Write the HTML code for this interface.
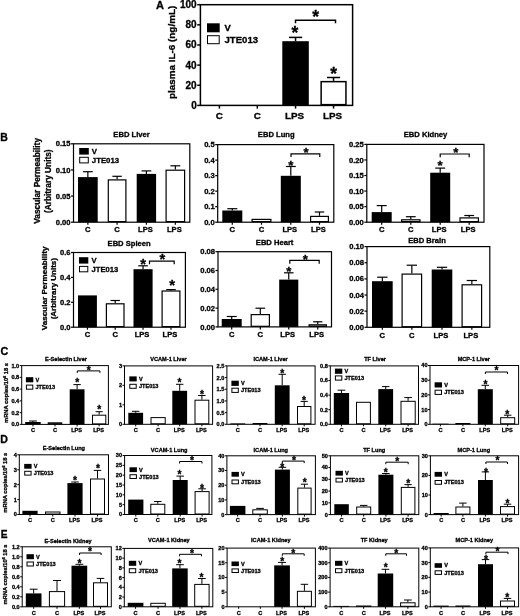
<!DOCTYPE html>
<html><head><meta charset="utf-8"><title>Figure</title>
<style>html,body{margin:0;padding:0;background:#fff;} svg{display:block;} text{font-family:"Liberation Sans", Arial, sans-serif;fill:#000;stroke:#000;stroke-width:0.3px;}</style>
</head><body>
<svg width="520" height="616" viewBox="0 0 520 616">
<rect width="520" height="616" fill="#fff"/>
<line x1="295.55" y1="41.2" x2="295.55" y2="37.4" stroke="#000" stroke-width="1.5"/>
<line x1="288.93" y1="37.4" x2="302.18" y2="37.4" stroke="#000" stroke-width="1.5"/>
<rect x="282.3" y="41.2" width="26.5" height="64.2" fill="#000"/>
<line x1="333.55" y1="80.9" x2="333.55" y2="77.5" stroke="#000" stroke-width="1.5"/>
<line x1="326.97" y1="77.5" x2="340.12" y2="77.5" stroke="#000" stroke-width="1.5"/>
<rect x="321.15" y="81.65" width="24.8" height="23" fill="#fff" stroke="#000" stroke-width="1.5"/>
<rect x="200.4" y="4.7" width="152.2" height="100.7" fill="none" stroke="#000" stroke-width="1.5"/>
<line x1="197.2" y1="105.4" x2="200.4" y2="105.4" stroke="#000" stroke-width="1.5"/>
<text x="196.7" y="108.84" font-size="10" text-anchor="end" font-weight="bold" >0</text>
<line x1="197.2" y1="85.26" x2="200.4" y2="85.26" stroke="#000" stroke-width="1.5"/>
<text x="196.7" y="88.7" font-size="10" text-anchor="end" font-weight="bold" >20</text>
<line x1="197.2" y1="65.12" x2="200.4" y2="65.12" stroke="#000" stroke-width="1.5"/>
<text x="196.7" y="68.56" font-size="10" text-anchor="end" font-weight="bold" >40</text>
<line x1="197.2" y1="44.98" x2="200.4" y2="44.98" stroke="#000" stroke-width="1.5"/>
<text x="196.7" y="48.42" font-size="10" text-anchor="end" font-weight="bold" >60</text>
<line x1="197.2" y1="24.84" x2="200.4" y2="24.84" stroke="#000" stroke-width="1.5"/>
<text x="196.7" y="28.28" font-size="10" text-anchor="end" font-weight="bold" >80</text>
<line x1="197.2" y1="4.7" x2="200.4" y2="4.7" stroke="#000" stroke-width="1.5"/>
<text x="196.7" y="8.14" font-size="10" text-anchor="end" font-weight="bold" >100</text>
<line x1="219.4" y1="105.4" x2="219.4" y2="108.6" stroke="#000" stroke-width="1.5"/>
<text x="219.4" y="118.71" font-size="9.9" text-anchor="middle" font-weight="bold" >C</text>
<line x1="257.3" y1="105.4" x2="257.3" y2="108.6" stroke="#000" stroke-width="1.5"/>
<text x="257.3" y="118.71" font-size="9.9" text-anchor="middle" font-weight="bold" >C</text>
<line x1="295.55" y1="105.4" x2="295.55" y2="108.6" stroke="#000" stroke-width="1.5"/>
<text x="294.55" y="118.71" font-size="9.9" text-anchor="middle" font-weight="bold" >LPS</text>
<line x1="333.55" y1="105.4" x2="333.55" y2="108.6" stroke="#000" stroke-width="1.5"/>
<text x="332.55" y="118.71" font-size="9.9" text-anchor="middle" font-weight="bold" >LPS</text>
<rect x="207" y="23.3" width="12.7" height="9" fill="#000"/>
<rect x="207.5" y="35.7" width="11.7" height="8" fill="#fff" stroke="#000" stroke-width="1.0"/>
<text x="224.5" y="30.96" font-size="9.2" text-anchor="start" font-weight="bold"  textLength="6.3" lengthAdjust="spacingAndGlyphs">V</text>
<text x="224.5" y="42.86" font-size="9.2" text-anchor="start" font-weight="bold"  textLength="33.6" lengthAdjust="spacingAndGlyphs">JTE013</text>
<text x="294.8" y="38.77" font-size="17.47" text-anchor="middle" font-weight="bold">*</text>
<text x="333.6" y="79.77" font-size="17.47" text-anchor="middle" font-weight="bold">*</text>
<text x="315.7" y="22.57" font-size="17.47" text-anchor="middle" font-weight="bold">*</text>
<polyline points="295.5,23.2 295.5,20.2 335.5,20.2 335.5,23.2" fill="none" stroke="#000" stroke-width="1.5"/>
<line x1="87.85" y1="177.1" x2="87.85" y2="171.7" stroke="#000" stroke-width="1.2"/>
<line x1="82.92" y1="171.7" x2="92.77" y2="171.7" stroke="#000" stroke-width="1.2"/>
<rect x="78" y="177.1" width="19.7" height="45.1" fill="#000"/>
<line x1="117.1" y1="179.3" x2="117.1" y2="176.3" stroke="#000" stroke-width="1.2"/>
<line x1="112.4" y1="176.3" x2="121.8" y2="176.3" stroke="#000" stroke-width="1.2"/>
<rect x="108.3" y="179.9" width="17.6" height="41.7" fill="#fff" stroke="#000" stroke-width="1.2"/>
<line x1="146.4" y1="173.9" x2="146.4" y2="170.9" stroke="#000" stroke-width="1.2"/>
<line x1="141.55" y1="170.9" x2="151.25" y2="170.9" stroke="#000" stroke-width="1.2"/>
<rect x="136.7" y="173.9" width="19.4" height="48.3" fill="#000"/>
<line x1="175.35" y1="169.6" x2="175.35" y2="165.8" stroke="#000" stroke-width="1.2"/>
<line x1="170.43" y1="165.8" x2="180.27" y2="165.8" stroke="#000" stroke-width="1.2"/>
<rect x="166.1" y="170.2" width="18.5" height="51.4" fill="#fff" stroke="#000" stroke-width="1.2"/>
<rect x="73.5" y="143.8" width="116.3" height="78.4" fill="none" stroke="#000" stroke-width="1.2"/>
<line x1="71" y1="222.2" x2="73.5" y2="222.2" stroke="#000" stroke-width="1.2"/>
<text x="70.5" y="224.81" font-size="7.6" text-anchor="end" font-weight="bold" >0.00</text>
<line x1="71" y1="196.07" x2="73.5" y2="196.07" stroke="#000" stroke-width="1.2"/>
<text x="70.5" y="198.68" font-size="7.6" text-anchor="end" font-weight="bold" >0.05</text>
<line x1="71" y1="169.93" x2="73.5" y2="169.93" stroke="#000" stroke-width="1.2"/>
<text x="70.5" y="172.55" font-size="7.6" text-anchor="end" font-weight="bold" >0.10</text>
<line x1="71" y1="143.8" x2="73.5" y2="143.8" stroke="#000" stroke-width="1.2"/>
<text x="70.5" y="146.41" font-size="7.6" text-anchor="end" font-weight="bold" >0.15</text>
<line x1="87.85" y1="222.2" x2="87.85" y2="224.7" stroke="#000" stroke-width="1.2"/>
<text x="87.85" y="232.21" font-size="7.6" text-anchor="middle" font-weight="bold" >C</text>
<line x1="117.1" y1="222.2" x2="117.1" y2="224.7" stroke="#000" stroke-width="1.2"/>
<text x="117.1" y="232.21" font-size="7.6" text-anchor="middle" font-weight="bold" >C</text>
<line x1="146.4" y1="222.2" x2="146.4" y2="224.7" stroke="#000" stroke-width="1.2"/>
<text x="145.4" y="232.21" font-size="7.6" text-anchor="middle" font-weight="bold" >LPS</text>
<line x1="175.35" y1="222.2" x2="175.35" y2="224.7" stroke="#000" stroke-width="1.2"/>
<text x="174.35" y="232.21" font-size="7.6" text-anchor="middle" font-weight="bold" >LPS</text>
<text x="131.5" y="137.31" font-size="7.6" text-anchor="middle" font-weight="bold" >EBD Liver</text>
<rect x="79.2" y="148" width="9.6" height="6.6" fill="#000"/>
<rect x="79.7" y="157.3" width="8.6" height="5.6" fill="#fff" stroke="#000" stroke-width="1.0"/>
<text x="91.8" y="153.98" font-size="7.8" text-anchor="start" font-weight="bold" >V</text>
<text x="91.8" y="162.78" font-size="7.8" text-anchor="start" font-weight="bold" >JTE013</text>
<line x1="232.3" y1="210.5" x2="232.3" y2="208.7" stroke="#000" stroke-width="1.2"/>
<line x1="227.3" y1="208.7" x2="237.3" y2="208.7" stroke="#000" stroke-width="1.2"/>
<rect x="222.3" y="210.5" width="20" height="11.7" fill="#000"/>
<rect x="252.1" y="219.4" width="18.8" height="2.2" fill="#fff" stroke="#000" stroke-width="1.2"/>
<line x1="290.8" y1="175.8" x2="290.8" y2="166.5" stroke="#000" stroke-width="1.2"/>
<line x1="285.8" y1="166.5" x2="295.8" y2="166.5" stroke="#000" stroke-width="1.2"/>
<rect x="280.8" y="175.8" width="20" height="46.4" fill="#000"/>
<line x1="319.5" y1="215.8" x2="319.5" y2="212" stroke="#000" stroke-width="1.2"/>
<line x1="314.75" y1="212" x2="324.25" y2="212" stroke="#000" stroke-width="1.2"/>
<rect x="310.6" y="216.4" width="17.8" height="5.2" fill="#fff" stroke="#000" stroke-width="1.2"/>
<rect x="217.7" y="144.6" width="116.1" height="77.6" fill="none" stroke="#000" stroke-width="1.2"/>
<line x1="215.2" y1="222.2" x2="217.7" y2="222.2" stroke="#000" stroke-width="1.2"/>
<text x="214.7" y="224.81" font-size="7.6" text-anchor="end" font-weight="bold" >0.0</text>
<line x1="215.2" y1="206.68" x2="217.7" y2="206.68" stroke="#000" stroke-width="1.2"/>
<text x="214.7" y="209.29" font-size="7.6" text-anchor="end" font-weight="bold" >0.1</text>
<line x1="215.2" y1="191.16" x2="217.7" y2="191.16" stroke="#000" stroke-width="1.2"/>
<text x="214.7" y="193.77" font-size="7.6" text-anchor="end" font-weight="bold" >0.2</text>
<line x1="215.2" y1="175.64" x2="217.7" y2="175.64" stroke="#000" stroke-width="1.2"/>
<text x="214.7" y="178.25" font-size="7.6" text-anchor="end" font-weight="bold" >0.3</text>
<line x1="215.2" y1="160.12" x2="217.7" y2="160.12" stroke="#000" stroke-width="1.2"/>
<text x="214.7" y="162.73" font-size="7.6" text-anchor="end" font-weight="bold" >0.4</text>
<line x1="215.2" y1="144.6" x2="217.7" y2="144.6" stroke="#000" stroke-width="1.2"/>
<text x="214.7" y="147.21" font-size="7.6" text-anchor="end" font-weight="bold" >0.5</text>
<line x1="232.3" y1="222.2" x2="232.3" y2="224.7" stroke="#000" stroke-width="1.2"/>
<text x="232.3" y="232.21" font-size="7.6" text-anchor="middle" font-weight="bold" >C</text>
<line x1="261.5" y1="222.2" x2="261.5" y2="224.7" stroke="#000" stroke-width="1.2"/>
<text x="261.5" y="232.21" font-size="7.6" text-anchor="middle" font-weight="bold" >C</text>
<line x1="290.8" y1="222.2" x2="290.8" y2="224.7" stroke="#000" stroke-width="1.2"/>
<text x="289.8" y="232.21" font-size="7.6" text-anchor="middle" font-weight="bold" >LPS</text>
<line x1="319.5" y1="222.2" x2="319.5" y2="224.7" stroke="#000" stroke-width="1.2"/>
<text x="318.5" y="232.21" font-size="7.6" text-anchor="middle" font-weight="bold" >LPS</text>
<text x="276.2" y="137.01" font-size="7.6" text-anchor="middle" font-weight="bold" >EBD Lung</text>
<text x="290.7" y="169.71" font-size="13.17" text-anchor="middle" font-weight="bold">*</text>
<text x="306.1" y="157.21" font-size="13.17" text-anchor="middle" font-weight="bold">*</text>
<polyline points="291,157.1 291,153.8 319.8,153.8 319.8,157.1" fill="none" stroke="#000" stroke-width="1.2"/>
<line x1="381.7" y1="212.1" x2="381.7" y2="205.6" stroke="#000" stroke-width="1.2"/>
<line x1="376.7" y1="205.6" x2="386.7" y2="205.6" stroke="#000" stroke-width="1.2"/>
<rect x="371.7" y="212.1" width="20" height="10.1" fill="#000"/>
<line x1="410.8" y1="219.2" x2="410.8" y2="216.7" stroke="#000" stroke-width="1.2"/>
<line x1="405.9" y1="216.7" x2="415.7" y2="216.7" stroke="#000" stroke-width="1.2"/>
<rect x="401.6" y="219.8" width="18.4" height="1.8" fill="#fff" stroke="#000" stroke-width="1.2"/>
<line x1="440.2" y1="172.7" x2="440.2" y2="168.1" stroke="#000" stroke-width="1.2"/>
<line x1="435.2" y1="168.1" x2="445.2" y2="168.1" stroke="#000" stroke-width="1.2"/>
<rect x="430.2" y="172.7" width="20" height="49.5" fill="#000"/>
<line x1="469.2" y1="217.3" x2="469.2" y2="215.5" stroke="#000" stroke-width="1.2"/>
<line x1="464.3" y1="215.5" x2="474.1" y2="215.5" stroke="#000" stroke-width="1.2"/>
<rect x="460" y="217.9" width="18.4" height="3.7" fill="#fff" stroke="#000" stroke-width="1.2"/>
<rect x="366.8" y="144.4" width="117.2" height="77.8" fill="none" stroke="#000" stroke-width="1.2"/>
<line x1="364.3" y1="222.2" x2="366.8" y2="222.2" stroke="#000" stroke-width="1.2"/>
<text x="363.8" y="224.81" font-size="7.6" text-anchor="end" font-weight="bold" >0.00</text>
<line x1="364.3" y1="206.64" x2="366.8" y2="206.64" stroke="#000" stroke-width="1.2"/>
<text x="363.8" y="209.25" font-size="7.6" text-anchor="end" font-weight="bold" >0.05</text>
<line x1="364.3" y1="191.08" x2="366.8" y2="191.08" stroke="#000" stroke-width="1.2"/>
<text x="363.8" y="193.69" font-size="7.6" text-anchor="end" font-weight="bold" >0.10</text>
<line x1="364.3" y1="175.52" x2="366.8" y2="175.52" stroke="#000" stroke-width="1.2"/>
<text x="363.8" y="178.13" font-size="7.6" text-anchor="end" font-weight="bold" >0.15</text>
<line x1="364.3" y1="159.96" x2="366.8" y2="159.96" stroke="#000" stroke-width="1.2"/>
<text x="363.8" y="162.57" font-size="7.6" text-anchor="end" font-weight="bold" >0.20</text>
<line x1="364.3" y1="144.4" x2="366.8" y2="144.4" stroke="#000" stroke-width="1.2"/>
<text x="363.8" y="147.01" font-size="7.6" text-anchor="end" font-weight="bold" >0.25</text>
<line x1="381.7" y1="222.2" x2="381.7" y2="224.7" stroke="#000" stroke-width="1.2"/>
<text x="381.7" y="232.21" font-size="7.6" text-anchor="middle" font-weight="bold" >C</text>
<line x1="410.8" y1="222.2" x2="410.8" y2="224.7" stroke="#000" stroke-width="1.2"/>
<text x="410.8" y="232.21" font-size="7.6" text-anchor="middle" font-weight="bold" >C</text>
<line x1="440.2" y1="222.2" x2="440.2" y2="224.7" stroke="#000" stroke-width="1.2"/>
<text x="439.2" y="232.21" font-size="7.6" text-anchor="middle" font-weight="bold" >LPS</text>
<line x1="469.2" y1="222.2" x2="469.2" y2="224.7" stroke="#000" stroke-width="1.2"/>
<text x="468.2" y="232.21" font-size="7.6" text-anchor="middle" font-weight="bold" >LPS</text>
<text x="425.5" y="136.61" font-size="7.6" text-anchor="middle" font-weight="bold" >EBD Kidney</text>
<text x="440" y="170.31" font-size="13.17" text-anchor="middle" font-weight="bold">*</text>
<text x="455.9" y="156.51" font-size="13.17" text-anchor="middle" font-weight="bold">*</text>
<polyline points="440.2,157.3 440.2,154 469.2,154 469.2,157.3" fill="none" stroke="#000" stroke-width="1.2"/>
<rect x="78" y="295.4" width="18.9" height="31.8" fill="#000"/>
<line x1="115.2" y1="303.2" x2="115.2" y2="300.5" stroke="#000" stroke-width="1.2"/>
<line x1="110.5" y1="300.5" x2="119.9" y2="300.5" stroke="#000" stroke-width="1.2"/>
<rect x="106.4" y="303.8" width="17.6" height="22.8" fill="#fff" stroke="#000" stroke-width="1.2"/>
<line x1="143.05" y1="269.2" x2="143.05" y2="265.8" stroke="#000" stroke-width="1.2"/>
<line x1="138.28" y1="265.8" x2="147.83" y2="265.8" stroke="#000" stroke-width="1.2"/>
<rect x="133.5" y="269.2" width="19.1" height="58" fill="#000"/>
<line x1="171" y1="290.4" x2="171" y2="289.6" stroke="#000" stroke-width="1.2"/>
<line x1="166.25" y1="289.6" x2="175.75" y2="289.6" stroke="#000" stroke-width="1.2"/>
<rect x="162.1" y="291" width="17.8" height="35.6" fill="#fff" stroke="#000" stroke-width="1.2"/>
<rect x="73.5" y="252.5" width="111.9" height="74.7" fill="none" stroke="#000" stroke-width="1.2"/>
<line x1="71" y1="327.2" x2="73.5" y2="327.2" stroke="#000" stroke-width="1.2"/>
<text x="70.5" y="329.81" font-size="7.6" text-anchor="end" font-weight="bold" >0.0</text>
<line x1="71" y1="302.3" x2="73.5" y2="302.3" stroke="#000" stroke-width="1.2"/>
<text x="70.5" y="304.91" font-size="7.6" text-anchor="end" font-weight="bold" >0.2</text>
<line x1="71" y1="277.4" x2="73.5" y2="277.4" stroke="#000" stroke-width="1.2"/>
<text x="70.5" y="280.01" font-size="7.6" text-anchor="end" font-weight="bold" >0.4</text>
<line x1="71" y1="252.5" x2="73.5" y2="252.5" stroke="#000" stroke-width="1.2"/>
<text x="70.5" y="255.11" font-size="7.6" text-anchor="end" font-weight="bold" >0.6</text>
<line x1="87.45" y1="327.2" x2="87.45" y2="329.7" stroke="#000" stroke-width="1.2"/>
<text x="87.45" y="336.71" font-size="7.6" text-anchor="middle" font-weight="bold" >C</text>
<line x1="115.2" y1="327.2" x2="115.2" y2="329.7" stroke="#000" stroke-width="1.2"/>
<text x="115.2" y="336.71" font-size="7.6" text-anchor="middle" font-weight="bold" >C</text>
<line x1="143.05" y1="327.2" x2="143.05" y2="329.7" stroke="#000" stroke-width="1.2"/>
<text x="142.05" y="336.71" font-size="7.6" text-anchor="middle" font-weight="bold" >LPS</text>
<line x1="171" y1="327.2" x2="171" y2="329.7" stroke="#000" stroke-width="1.2"/>
<text x="170" y="336.71" font-size="7.6" text-anchor="middle" font-weight="bold" >LPS</text>
<text x="129.1" y="245.81" font-size="7.6" text-anchor="middle" font-weight="bold" >EBD Spleen</text>
<rect x="79" y="257.2" width="9.3" height="6.4" fill="#000"/>
<rect x="79.5" y="266.4" width="8.3" height="5.4" fill="#fff" stroke="#000" stroke-width="1.0"/>
<text x="91.6" y="263.01" font-size="7.6" text-anchor="start" font-weight="bold" >V</text>
<text x="91.6" y="271.71" font-size="7.6" text-anchor="start" font-weight="bold" >JTE013</text>
<text x="143" y="269.42" font-size="14.78" text-anchor="middle" font-weight="bold">*</text>
<text x="172" y="289.62" font-size="14.78" text-anchor="middle" font-weight="bold">*</text>
<text x="162.3" y="264.42" font-size="14.78" text-anchor="middle" font-weight="bold">*</text>
<polyline points="149.5,264.2 149.5,261.2 174.2,261.2 174.2,264.2" fill="none" stroke="#000" stroke-width="1.2"/>
<line x1="231.7" y1="319" x2="231.7" y2="316.5" stroke="#000" stroke-width="1.2"/>
<line x1="226.7" y1="316.5" x2="236.7" y2="316.5" stroke="#000" stroke-width="1.2"/>
<rect x="221.7" y="319" width="20" height="7.9" fill="#000"/>
<line x1="260.3" y1="314" x2="260.3" y2="308.2" stroke="#000" stroke-width="1.2"/>
<line x1="255.45" y1="308.2" x2="265.15" y2="308.2" stroke="#000" stroke-width="1.2"/>
<rect x="251.2" y="314.6" width="18.2" height="11.7" fill="#fff" stroke="#000" stroke-width="1.2"/>
<line x1="288.75" y1="279.6" x2="288.75" y2="272.8" stroke="#000" stroke-width="1.2"/>
<line x1="283.98" y1="272.8" x2="293.52" y2="272.8" stroke="#000" stroke-width="1.2"/>
<rect x="279.2" y="279.6" width="19.1" height="47.3" fill="#000"/>
<line x1="317.75" y1="324.2" x2="317.75" y2="321.8" stroke="#000" stroke-width="1.2"/>
<line x1="313.12" y1="321.8" x2="322.38" y2="321.8" stroke="#000" stroke-width="1.2"/>
<rect x="309.1" y="324.8" width="17.3" height="1.5" fill="#fff" stroke="#000" stroke-width="1.2"/>
<rect x="218" y="251.7" width="113.5" height="75.2" fill="none" stroke="#000" stroke-width="1.2"/>
<line x1="215.5" y1="326.9" x2="218" y2="326.9" stroke="#000" stroke-width="1.2"/>
<text x="215" y="329.51" font-size="7.6" text-anchor="end" font-weight="bold" >0.00</text>
<line x1="215.5" y1="308.1" x2="218" y2="308.1" stroke="#000" stroke-width="1.2"/>
<text x="215" y="310.71" font-size="7.6" text-anchor="end" font-weight="bold" >0.02</text>
<line x1="215.5" y1="289.3" x2="218" y2="289.3" stroke="#000" stroke-width="1.2"/>
<text x="215" y="291.91" font-size="7.6" text-anchor="end" font-weight="bold" >0.04</text>
<line x1="215.5" y1="270.5" x2="218" y2="270.5" stroke="#000" stroke-width="1.2"/>
<text x="215" y="273.11" font-size="7.6" text-anchor="end" font-weight="bold" >0.06</text>
<line x1="215.5" y1="251.7" x2="218" y2="251.7" stroke="#000" stroke-width="1.2"/>
<text x="215" y="254.31" font-size="7.6" text-anchor="end" font-weight="bold" >0.08</text>
<line x1="231.7" y1="326.9" x2="231.7" y2="329.4" stroke="#000" stroke-width="1.2"/>
<text x="231.7" y="337.01" font-size="7.6" text-anchor="middle" font-weight="bold" >C</text>
<line x1="260.3" y1="326.9" x2="260.3" y2="329.4" stroke="#000" stroke-width="1.2"/>
<text x="260.3" y="337.01" font-size="7.6" text-anchor="middle" font-weight="bold" >C</text>
<line x1="288.75" y1="326.9" x2="288.75" y2="329.4" stroke="#000" stroke-width="1.2"/>
<text x="287.75" y="337.01" font-size="7.6" text-anchor="middle" font-weight="bold" >LPS</text>
<line x1="317.75" y1="326.9" x2="317.75" y2="329.4" stroke="#000" stroke-width="1.2"/>
<text x="316.75" y="337.01" font-size="7.6" text-anchor="middle" font-weight="bold" >LPS</text>
<text x="274.6" y="245.31" font-size="7.6" text-anchor="middle" font-weight="bold" >EBD Heart</text>
<text x="288.8" y="275.81" font-size="13.17" text-anchor="middle" font-weight="bold">*</text>
<text x="305.2" y="263.91" font-size="13.17" text-anchor="middle" font-weight="bold">*</text>
<polyline points="289.8,263.7 289.8,260.4 319.2,260.4 319.2,263.7" fill="none" stroke="#000" stroke-width="1.2"/>
<line x1="382.35" y1="281.2" x2="382.35" y2="277.2" stroke="#000" stroke-width="1.2"/>
<line x1="377.18" y1="277.2" x2="387.53" y2="277.2" stroke="#000" stroke-width="1.2"/>
<rect x="372" y="281.2" width="20.7" height="46.1" fill="#000"/>
<line x1="411.85" y1="273.5" x2="411.85" y2="265.2" stroke="#000" stroke-width="1.2"/>
<line x1="406.68" y1="265.2" x2="417.03" y2="265.2" stroke="#000" stroke-width="1.2"/>
<rect x="402.1" y="274.1" width="19.5" height="52.6" fill="#fff" stroke="#000" stroke-width="1.2"/>
<line x1="442" y1="269.5" x2="442" y2="267.3" stroke="#000" stroke-width="1.2"/>
<line x1="436.85" y1="267.3" x2="447.15" y2="267.3" stroke="#000" stroke-width="1.2"/>
<rect x="431.7" y="269.5" width="20.6" height="57.8" fill="#000"/>
<line x1="471.85" y1="284.2" x2="471.85" y2="280.5" stroke="#000" stroke-width="1.2"/>
<line x1="466.68" y1="280.5" x2="477.03" y2="280.5" stroke="#000" stroke-width="1.2"/>
<rect x="462.1" y="284.8" width="19.5" height="41.9" fill="#fff" stroke="#000" stroke-width="1.2"/>
<rect x="367" y="246.6" width="122.8" height="80.7" fill="none" stroke="#000" stroke-width="1.2"/>
<line x1="364.5" y1="327.3" x2="367" y2="327.3" stroke="#000" stroke-width="1.2"/>
<text x="364" y="329.91" font-size="7.6" text-anchor="end" font-weight="bold" >0.00</text>
<line x1="364.5" y1="311.16" x2="367" y2="311.16" stroke="#000" stroke-width="1.2"/>
<text x="364" y="313.77" font-size="7.6" text-anchor="end" font-weight="bold" >0.02</text>
<line x1="364.5" y1="295.02" x2="367" y2="295.02" stroke="#000" stroke-width="1.2"/>
<text x="364" y="297.63" font-size="7.6" text-anchor="end" font-weight="bold" >0.04</text>
<line x1="364.5" y1="278.88" x2="367" y2="278.88" stroke="#000" stroke-width="1.2"/>
<text x="364" y="281.49" font-size="7.6" text-anchor="end" font-weight="bold" >0.06</text>
<line x1="364.5" y1="262.74" x2="367" y2="262.74" stroke="#000" stroke-width="1.2"/>
<text x="364" y="265.35" font-size="7.6" text-anchor="end" font-weight="bold" >0.08</text>
<line x1="364.5" y1="246.6" x2="367" y2="246.6" stroke="#000" stroke-width="1.2"/>
<text x="364" y="249.21" font-size="7.6" text-anchor="end" font-weight="bold" >0.10</text>
<line x1="382.35" y1="327.3" x2="382.35" y2="329.8" stroke="#000" stroke-width="1.2"/>
<text x="382.35" y="337.81" font-size="7.6" text-anchor="middle" font-weight="bold" >C</text>
<line x1="411.85" y1="327.3" x2="411.85" y2="329.8" stroke="#000" stroke-width="1.2"/>
<text x="411.85" y="337.81" font-size="7.6" text-anchor="middle" font-weight="bold" >C</text>
<line x1="442" y1="327.3" x2="442" y2="329.8" stroke="#000" stroke-width="1.2"/>
<text x="441" y="337.81" font-size="7.6" text-anchor="middle" font-weight="bold" >LPS</text>
<line x1="471.85" y1="327.3" x2="471.85" y2="329.8" stroke="#000" stroke-width="1.2"/>
<text x="470.85" y="337.81" font-size="7.6" text-anchor="middle" font-weight="bold" >LPS</text>
<text x="427" y="242.71" font-size="7.6" text-anchor="middle" font-weight="bold" >EBD Brain</text>
<line x1="32.95" y1="422" x2="32.95" y2="421" stroke="#000" stroke-width="1.0"/>
<line x1="29.08" y1="421" x2="36.83" y2="421" stroke="#000" stroke-width="1.0"/>
<rect x="25.2" y="422" width="15.5" height="2.4" fill="#000"/>
<rect x="48.2" y="422.8" width="13.6" height="1.1" fill="#fff" stroke="#000" stroke-width="1.0"/>
<line x1="77.1" y1="389.3" x2="77.1" y2="384.6" stroke="#000" stroke-width="1.0"/>
<line x1="73.4" y1="384.6" x2="80.8" y2="384.6" stroke="#000" stroke-width="1.0"/>
<rect x="69.7" y="389.3" width="14.8" height="35.1" fill="#000"/>
<line x1="99.15" y1="414.7" x2="99.15" y2="411.7" stroke="#000" stroke-width="1.0"/>
<line x1="95.58" y1="411.7" x2="102.73" y2="411.7" stroke="#000" stroke-width="1.0"/>
<rect x="92.5" y="415.2" width="13.3" height="8.7" fill="#fff" stroke="#000" stroke-width="1.0"/>
<rect x="21.7" y="365.6" width="86.7" height="58.8" fill="none" stroke="#000" stroke-width="1.0"/>
<line x1="19.7" y1="424.4" x2="21.7" y2="424.4" stroke="#000" stroke-width="1.0"/>
<text x="19.2" y="426.33" font-size="5.6" text-anchor="end" font-weight="bold" >0.0</text>
<line x1="19.7" y1="412.64" x2="21.7" y2="412.64" stroke="#000" stroke-width="1.0"/>
<text x="19.2" y="414.57" font-size="5.6" text-anchor="end" font-weight="bold" >0.2</text>
<line x1="19.7" y1="400.88" x2="21.7" y2="400.88" stroke="#000" stroke-width="1.0"/>
<text x="19.2" y="402.81" font-size="5.6" text-anchor="end" font-weight="bold" >0.4</text>
<line x1="19.7" y1="389.12" x2="21.7" y2="389.12" stroke="#000" stroke-width="1.0"/>
<text x="19.2" y="391.05" font-size="5.6" text-anchor="end" font-weight="bold" >0.6</text>
<line x1="19.7" y1="377.36" x2="21.7" y2="377.36" stroke="#000" stroke-width="1.0"/>
<text x="19.2" y="379.29" font-size="5.6" text-anchor="end" font-weight="bold" >0.8</text>
<line x1="19.7" y1="365.6" x2="21.7" y2="365.6" stroke="#000" stroke-width="1.0"/>
<text x="19.2" y="367.53" font-size="5.6" text-anchor="end" font-weight="bold" >1.0</text>
<line x1="32.95" y1="424.4" x2="32.95" y2="426.4" stroke="#000" stroke-width="1.0"/>
<text x="32.95" y="432.03" font-size="5.6" text-anchor="middle" font-weight="bold" >C</text>
<line x1="55" y1="424.4" x2="55" y2="426.4" stroke="#000" stroke-width="1.0"/>
<text x="55" y="432.03" font-size="5.6" text-anchor="middle" font-weight="bold" >C</text>
<line x1="77.1" y1="424.4" x2="77.1" y2="426.4" stroke="#000" stroke-width="1.0"/>
<text x="76.6" y="432.03" font-size="5.6" text-anchor="middle" font-weight="bold" >LPS</text>
<line x1="99.15" y1="424.4" x2="99.15" y2="426.4" stroke="#000" stroke-width="1.0"/>
<text x="98.65" y="432.03" font-size="5.6" text-anchor="middle" font-weight="bold" >LPS</text>
<text x="66" y="361.33" font-size="5.6" text-anchor="middle" font-weight="bold" >E-Selectin Liver</text>
<rect x="25.9" y="377.2" width="7.4" height="5.1" fill="#000"/>
<rect x="26.4" y="385.1" width="6.4" height="4.1" fill="#fff" stroke="#000" stroke-width="1.0"/>
<text x="35.5" y="381.68" font-size="5.6" text-anchor="start" font-weight="bold" >V</text>
<text x="35.5" y="389.08" font-size="5.6" text-anchor="start" font-weight="bold" >JTE013</text>
<text x="77.3" y="386.33" font-size="10.22" text-anchor="middle" font-weight="bold">*</text>
<text x="99.3" y="412.73" font-size="10.22" text-anchor="middle" font-weight="bold">*</text>
<text x="88.7" y="374.03" font-size="10.22" text-anchor="middle" font-weight="bold">*</text>
<polyline points="77.3,372.9 77.3,370.9 99.9,370.9 99.9,372.9" fill="none" stroke="#000" stroke-width="1.0"/>
<line x1="135.7" y1="412.8" x2="135.7" y2="411.3" stroke="#000" stroke-width="1.0"/>
<line x1="132" y1="411.3" x2="139.4" y2="411.3" stroke="#000" stroke-width="1.0"/>
<rect x="128.3" y="412.8" width="14.8" height="11.5" fill="#000"/>
<rect x="151" y="417.6" width="14.2" height="6.2" fill="#fff" stroke="#000" stroke-width="1.0"/>
<line x1="179.7" y1="390.8" x2="179.7" y2="384.3" stroke="#000" stroke-width="1.0"/>
<line x1="176" y1="384.3" x2="183.4" y2="384.3" stroke="#000" stroke-width="1.0"/>
<rect x="172.3" y="390.8" width="14.8" height="33.5" fill="#000"/>
<line x1="201.9" y1="399.7" x2="201.9" y2="395.5" stroke="#000" stroke-width="1.0"/>
<line x1="198.2" y1="395.5" x2="205.6" y2="395.5" stroke="#000" stroke-width="1.0"/>
<rect x="195" y="400.2" width="13.8" height="23.6" fill="#fff" stroke="#000" stroke-width="1.0"/>
<rect x="124.5" y="365.9" width="88.1" height="58.4" fill="none" stroke="#000" stroke-width="1.0"/>
<line x1="122.5" y1="424.3" x2="124.5" y2="424.3" stroke="#000" stroke-width="1.0"/>
<text x="122" y="426.23" font-size="5.6" text-anchor="end" font-weight="bold" >0</text>
<line x1="122.5" y1="404.83" x2="124.5" y2="404.83" stroke="#000" stroke-width="1.0"/>
<text x="122" y="406.76" font-size="5.6" text-anchor="end" font-weight="bold" >1</text>
<line x1="122.5" y1="385.37" x2="124.5" y2="385.37" stroke="#000" stroke-width="1.0"/>
<text x="122" y="387.29" font-size="5.6" text-anchor="end" font-weight="bold" >2</text>
<line x1="122.5" y1="365.9" x2="124.5" y2="365.9" stroke="#000" stroke-width="1.0"/>
<text x="122" y="367.83" font-size="5.6" text-anchor="end" font-weight="bold" >3</text>
<line x1="135.7" y1="424.3" x2="135.7" y2="426.3" stroke="#000" stroke-width="1.0"/>
<text x="135.7" y="432.33" font-size="5.6" text-anchor="middle" font-weight="bold" >C</text>
<line x1="158.1" y1="424.3" x2="158.1" y2="426.3" stroke="#000" stroke-width="1.0"/>
<text x="158.1" y="432.33" font-size="5.6" text-anchor="middle" font-weight="bold" >C</text>
<line x1="179.7" y1="424.3" x2="179.7" y2="426.3" stroke="#000" stroke-width="1.0"/>
<text x="179.2" y="432.33" font-size="5.6" text-anchor="middle" font-weight="bold" >LPS</text>
<line x1="201.9" y1="424.3" x2="201.9" y2="426.3" stroke="#000" stroke-width="1.0"/>
<text x="201.4" y="432.33" font-size="5.6" text-anchor="middle" font-weight="bold" >LPS</text>
<text x="168.5" y="360.83" font-size="5.6" text-anchor="middle" font-weight="bold" >VCAM-1 Liver</text>
<rect x="129.3" y="376.4" width="7.4" height="5" fill="#000"/>
<rect x="129.8" y="384.3" width="6.4" height="4" fill="#fff" stroke="#000" stroke-width="1.0"/>
<text x="138.9" y="380.83" font-size="5.6" text-anchor="start" font-weight="bold" >V</text>
<text x="138.9" y="388.23" font-size="5.6" text-anchor="start" font-weight="bold" >JTE013</text>
<text x="179.5" y="385.53" font-size="10.22" text-anchor="middle" font-weight="bold">*</text>
<text x="201.9" y="397.83" font-size="10.22" text-anchor="middle" font-weight="bold">*</text>
<rect x="230.4" y="423.4" width="14.8" height="0.9" fill="#000"/>
<rect x="252.6" y="423" width="14.8" height="1.3" fill="#000"/>
<line x1="282.2" y1="385.3" x2="282.2" y2="374.3" stroke="#000" stroke-width="1.0"/>
<line x1="278.5" y1="374.3" x2="285.9" y2="374.3" stroke="#000" stroke-width="1.0"/>
<rect x="274.8" y="385.3" width="14.8" height="39" fill="#000"/>
<line x1="304.2" y1="406" x2="304.2" y2="401.4" stroke="#000" stroke-width="1.0"/>
<line x1="300.6" y1="401.4" x2="307.8" y2="401.4" stroke="#000" stroke-width="1.0"/>
<rect x="297.5" y="406.5" width="13.4" height="17.3" fill="#fff" stroke="#000" stroke-width="1.0"/>
<rect x="226.9" y="365.9" width="88.2" height="58.4" fill="none" stroke="#000" stroke-width="1.0"/>
<line x1="224.9" y1="424.3" x2="226.9" y2="424.3" stroke="#000" stroke-width="1.0"/>
<text x="224.4" y="426.23" font-size="5.6" text-anchor="end" font-weight="bold" >0.0</text>
<line x1="224.9" y1="412.62" x2="226.9" y2="412.62" stroke="#000" stroke-width="1.0"/>
<text x="224.4" y="414.55" font-size="5.6" text-anchor="end" font-weight="bold" >0.5</text>
<line x1="224.9" y1="400.94" x2="226.9" y2="400.94" stroke="#000" stroke-width="1.0"/>
<text x="224.4" y="402.87" font-size="5.6" text-anchor="end" font-weight="bold" >1.0</text>
<line x1="224.9" y1="389.26" x2="226.9" y2="389.26" stroke="#000" stroke-width="1.0"/>
<text x="224.4" y="391.19" font-size="5.6" text-anchor="end" font-weight="bold" >1.5</text>
<line x1="224.9" y1="377.58" x2="226.9" y2="377.58" stroke="#000" stroke-width="1.0"/>
<text x="224.4" y="379.51" font-size="5.6" text-anchor="end" font-weight="bold" >2.0</text>
<line x1="224.9" y1="365.9" x2="226.9" y2="365.9" stroke="#000" stroke-width="1.0"/>
<text x="224.4" y="367.83" font-size="5.6" text-anchor="end" font-weight="bold" >2.5</text>
<line x1="237.8" y1="424.3" x2="237.8" y2="426.3" stroke="#000" stroke-width="1.0"/>
<text x="237.8" y="432.33" font-size="5.6" text-anchor="middle" font-weight="bold" >C</text>
<line x1="260" y1="424.3" x2="260" y2="426.3" stroke="#000" stroke-width="1.0"/>
<text x="260" y="432.33" font-size="5.6" text-anchor="middle" font-weight="bold" >C</text>
<line x1="282.2" y1="424.3" x2="282.2" y2="426.3" stroke="#000" stroke-width="1.0"/>
<text x="281.7" y="432.33" font-size="5.6" text-anchor="middle" font-weight="bold" >LPS</text>
<line x1="304.2" y1="424.3" x2="304.2" y2="426.3" stroke="#000" stroke-width="1.0"/>
<text x="303.7" y="432.33" font-size="5.6" text-anchor="middle" font-weight="bold" >LPS</text>
<text x="270.6" y="360.83" font-size="5.6" text-anchor="middle" font-weight="bold" >ICAM-1 Liver</text>
<rect x="231.4" y="380.7" width="7.4" height="5.2" fill="#000"/>
<rect x="231.9" y="388.2" width="6.4" height="4.2" fill="#fff" stroke="#000" stroke-width="1.0"/>
<text x="241" y="385.23" font-size="5.6" text-anchor="start" font-weight="bold" >V</text>
<text x="241" y="392.23" font-size="5.6" text-anchor="start" font-weight="bold" >JTE013</text>
<text x="282.2" y="377.13" font-size="10.22" text-anchor="middle" font-weight="bold">*</text>
<text x="304" y="403.53" font-size="10.22" text-anchor="middle" font-weight="bold">*</text>
<line x1="341.45" y1="393" x2="341.45" y2="390.2" stroke="#000" stroke-width="1.0"/>
<line x1="337.63" y1="390.2" x2="345.28" y2="390.2" stroke="#000" stroke-width="1.0"/>
<rect x="333.8" y="393" width="15.3" height="31.3" fill="#000"/>
<rect x="356.5" y="402.3" width="13.9" height="21.5" fill="#fff" stroke="#000" stroke-width="1.0"/>
<line x1="385.7" y1="389.1" x2="385.7" y2="386.6" stroke="#000" stroke-width="1.0"/>
<line x1="382" y1="386.6" x2="389.4" y2="386.6" stroke="#000" stroke-width="1.0"/>
<rect x="378.3" y="389.1" width="14.8" height="35.2" fill="#000"/>
<line x1="408.1" y1="400.8" x2="408.1" y2="397.6" stroke="#000" stroke-width="1.0"/>
<line x1="404.3" y1="397.6" x2="411.9" y2="397.6" stroke="#000" stroke-width="1.0"/>
<rect x="401" y="401.3" width="14.2" height="22.5" fill="#fff" stroke="#000" stroke-width="1.0"/>
<rect x="330.3" y="365.9" width="88.2" height="58.4" fill="none" stroke="#000" stroke-width="1.0"/>
<line x1="328.3" y1="424.3" x2="330.3" y2="424.3" stroke="#000" stroke-width="1.0"/>
<text x="327.8" y="426.23" font-size="5.6" text-anchor="end" font-weight="bold" >0.0</text>
<line x1="328.3" y1="409.7" x2="330.3" y2="409.7" stroke="#000" stroke-width="1.0"/>
<text x="327.8" y="411.63" font-size="5.6" text-anchor="end" font-weight="bold" >0.2</text>
<line x1="328.3" y1="395.1" x2="330.3" y2="395.1" stroke="#000" stroke-width="1.0"/>
<text x="327.8" y="397.03" font-size="5.6" text-anchor="end" font-weight="bold" >0.4</text>
<line x1="328.3" y1="380.5" x2="330.3" y2="380.5" stroke="#000" stroke-width="1.0"/>
<text x="327.8" y="382.43" font-size="5.6" text-anchor="end" font-weight="bold" >0.6</text>
<line x1="328.3" y1="365.9" x2="330.3" y2="365.9" stroke="#000" stroke-width="1.0"/>
<text x="327.8" y="367.83" font-size="5.6" text-anchor="end" font-weight="bold" >0.8</text>
<line x1="341.45" y1="424.3" x2="341.45" y2="426.3" stroke="#000" stroke-width="1.0"/>
<text x="341.45" y="432.33" font-size="5.6" text-anchor="middle" font-weight="bold" >C</text>
<line x1="363.45" y1="424.3" x2="363.45" y2="426.3" stroke="#000" stroke-width="1.0"/>
<text x="363.45" y="432.33" font-size="5.6" text-anchor="middle" font-weight="bold" >C</text>
<line x1="385.7" y1="424.3" x2="385.7" y2="426.3" stroke="#000" stroke-width="1.0"/>
<text x="385.2" y="432.33" font-size="5.6" text-anchor="middle" font-weight="bold" >LPS</text>
<line x1="408.1" y1="424.3" x2="408.1" y2="426.3" stroke="#000" stroke-width="1.0"/>
<text x="407.6" y="432.33" font-size="5.6" text-anchor="middle" font-weight="bold" >LPS</text>
<text x="375.1" y="360.83" font-size="5.6" text-anchor="middle" font-weight="bold" >TF Liver</text>
<rect x="334.9" y="368.6" width="7.4" height="5.2" fill="#000"/>
<rect x="335.4" y="375.9" width="6.4" height="4.2" fill="#fff" stroke="#000" stroke-width="1.0"/>
<text x="344.5" y="373.13" font-size="5.6" text-anchor="start" font-weight="bold" >V</text>
<text x="344.5" y="379.93" font-size="5.6" text-anchor="start" font-weight="bold" >JTE013</text>
<rect x="432.3" y="423.7" width="16.2" height="0.6" fill="#000"/>
<rect x="455.4" y="423" width="15" height="1.3" fill="#000"/>
<line x1="485.3" y1="389.2" x2="485.3" y2="385.3" stroke="#000" stroke-width="1.0"/>
<line x1="481.55" y1="385.3" x2="489.05" y2="385.3" stroke="#000" stroke-width="1.0"/>
<rect x="477.8" y="389.2" width="15" height="35.1" fill="#000"/>
<line x1="507.7" y1="417.2" x2="507.7" y2="415.2" stroke="#000" stroke-width="1.0"/>
<line x1="503.95" y1="415.2" x2="511.45" y2="415.2" stroke="#000" stroke-width="1.0"/>
<rect x="500.7" y="417.7" width="14" height="6.1" fill="#fff" stroke="#000" stroke-width="1.0"/>
<rect x="430" y="365.5" width="88.6" height="58.8" fill="none" stroke="#000" stroke-width="1.0"/>
<line x1="428" y1="424.3" x2="430" y2="424.3" stroke="#000" stroke-width="1.0"/>
<text x="427.5" y="426.23" font-size="5.6" text-anchor="end" font-weight="bold" >0</text>
<line x1="428" y1="409.6" x2="430" y2="409.6" stroke="#000" stroke-width="1.0"/>
<text x="427.5" y="411.53" font-size="5.6" text-anchor="end" font-weight="bold" >10</text>
<line x1="428" y1="394.9" x2="430" y2="394.9" stroke="#000" stroke-width="1.0"/>
<text x="427.5" y="396.83" font-size="5.6" text-anchor="end" font-weight="bold" >20</text>
<line x1="428" y1="380.2" x2="430" y2="380.2" stroke="#000" stroke-width="1.0"/>
<text x="427.5" y="382.13" font-size="5.6" text-anchor="end" font-weight="bold" >30</text>
<line x1="428" y1="365.5" x2="430" y2="365.5" stroke="#000" stroke-width="1.0"/>
<text x="427.5" y="367.43" font-size="5.6" text-anchor="end" font-weight="bold" >40</text>
<line x1="440.4" y1="424.3" x2="440.4" y2="426.3" stroke="#000" stroke-width="1.0"/>
<text x="440.4" y="432.33" font-size="5.6" text-anchor="middle" font-weight="bold" >C</text>
<line x1="462.9" y1="424.3" x2="462.9" y2="426.3" stroke="#000" stroke-width="1.0"/>
<text x="462.9" y="432.33" font-size="5.6" text-anchor="middle" font-weight="bold" >C</text>
<line x1="485.3" y1="424.3" x2="485.3" y2="426.3" stroke="#000" stroke-width="1.0"/>
<text x="484.8" y="432.33" font-size="5.6" text-anchor="middle" font-weight="bold" >LPS</text>
<line x1="507.7" y1="424.3" x2="507.7" y2="426.3" stroke="#000" stroke-width="1.0"/>
<text x="507.2" y="432.33" font-size="5.6" text-anchor="middle" font-weight="bold" >LPS</text>
<text x="473.8" y="361.13" font-size="5.6" text-anchor="middle" font-weight="bold" >MCP-1 Liver</text>
<rect x="434.6" y="382.3" width="7.4" height="5.2" fill="#000"/>
<rect x="435.1" y="390.2" width="6.4" height="4.2" fill="#fff" stroke="#000" stroke-width="1.0"/>
<text x="444.2" y="386.83" font-size="5.6" text-anchor="start" font-weight="bold" >V</text>
<text x="444.2" y="394.23" font-size="5.6" text-anchor="start" font-weight="bold" >JTE013</text>
<text x="485.4" y="387.53" font-size="10.22" text-anchor="middle" font-weight="bold">*</text>
<text x="507.3" y="417.73" font-size="10.22" text-anchor="middle" font-weight="bold">*</text>
<text x="496.5" y="374.43" font-size="10.22" text-anchor="middle" font-weight="bold">*</text>
<polyline points="485.4,374 485.4,372 507.5,372 507.5,374" fill="none" stroke="#000" stroke-width="1.0"/>
<rect x="22.4" y="510.8" width="15.2" height="3.7" fill="#000"/>
<rect x="45.5" y="512" width="14.5" height="2" fill="#fff" stroke="#000" stroke-width="1.0"/>
<line x1="75" y1="483.1" x2="75" y2="482" stroke="#000" stroke-width="1.0"/>
<line x1="71.2" y1="482" x2="78.8" y2="482" stroke="#000" stroke-width="1.0"/>
<rect x="67.4" y="483.1" width="15.2" height="31.4" fill="#000"/>
<line x1="97.5" y1="478.5" x2="97.5" y2="470.4" stroke="#000" stroke-width="1.0"/>
<line x1="93.75" y1="470.4" x2="101.25" y2="470.4" stroke="#000" stroke-width="1.0"/>
<rect x="90.5" y="479" width="14" height="35" fill="#fff" stroke="#000" stroke-width="1.0"/>
<rect x="19.3" y="454.8" width="89.2" height="59.7" fill="none" stroke="#000" stroke-width="1.0"/>
<line x1="17.3" y1="514.5" x2="19.3" y2="514.5" stroke="#000" stroke-width="1.0"/>
<text x="16.8" y="516.43" font-size="5.6" text-anchor="end" font-weight="bold" >0</text>
<line x1="17.3" y1="499.57" x2="19.3" y2="499.57" stroke="#000" stroke-width="1.0"/>
<text x="16.8" y="501.5" font-size="5.6" text-anchor="end" font-weight="bold" >1</text>
<line x1="17.3" y1="484.65" x2="19.3" y2="484.65" stroke="#000" stroke-width="1.0"/>
<text x="16.8" y="486.58" font-size="5.6" text-anchor="end" font-weight="bold" >2</text>
<line x1="17.3" y1="469.73" x2="19.3" y2="469.73" stroke="#000" stroke-width="1.0"/>
<text x="16.8" y="471.65" font-size="5.6" text-anchor="end" font-weight="bold" >3</text>
<line x1="17.3" y1="454.8" x2="19.3" y2="454.8" stroke="#000" stroke-width="1.0"/>
<text x="16.8" y="456.73" font-size="5.6" text-anchor="end" font-weight="bold" >4</text>
<line x1="30" y1="514.5" x2="30" y2="516.5" stroke="#000" stroke-width="1.0"/>
<text x="30" y="522.43" font-size="5.6" text-anchor="middle" font-weight="bold" >C</text>
<line x1="52.75" y1="514.5" x2="52.75" y2="516.5" stroke="#000" stroke-width="1.0"/>
<text x="52.75" y="522.43" font-size="5.6" text-anchor="middle" font-weight="bold" >C</text>
<line x1="75" y1="514.5" x2="75" y2="516.5" stroke="#000" stroke-width="1.0"/>
<text x="74.5" y="522.43" font-size="5.6" text-anchor="middle" font-weight="bold" >LPS</text>
<line x1="97.5" y1="514.5" x2="97.5" y2="516.5" stroke="#000" stroke-width="1.0"/>
<text x="97" y="522.43" font-size="5.6" text-anchor="middle" font-weight="bold" >LPS</text>
<text x="63.9" y="450.43" font-size="5.6" text-anchor="middle" font-weight="bold" >E-Selectin Lung</text>
<rect x="24.2" y="463.9" width="7.4" height="4.8" fill="#000"/>
<rect x="24.7" y="471.3" width="6.4" height="3.8" fill="#fff" stroke="#000" stroke-width="1.0"/>
<text x="33.8" y="468.23" font-size="5.6" text-anchor="start" font-weight="bold" >V</text>
<text x="33.8" y="475.13" font-size="5.6" text-anchor="start" font-weight="bold" >JTE013</text>
<text x="75" y="483.93" font-size="10.22" text-anchor="middle" font-weight="bold">*</text>
<text x="98.1" y="472.43" font-size="10.22" text-anchor="middle" font-weight="bold">*</text>
<rect x="128.2" y="499.6" width="15.2" height="14.9" fill="#000"/>
<line x1="157.8" y1="503.8" x2="157.8" y2="501.5" stroke="#000" stroke-width="1.0"/>
<line x1="154.05" y1="501.5" x2="161.55" y2="501.5" stroke="#000" stroke-width="1.0"/>
<rect x="150.8" y="504.3" width="14" height="9.7" fill="#fff" stroke="#000" stroke-width="1.0"/>
<line x1="180.2" y1="480" x2="180.2" y2="476.1" stroke="#000" stroke-width="1.0"/>
<line x1="176.45" y1="476.1" x2="183.95" y2="476.1" stroke="#000" stroke-width="1.0"/>
<rect x="172.7" y="480" width="15" height="34.5" fill="#000"/>
<line x1="202.1" y1="491.1" x2="202.1" y2="488.8" stroke="#000" stroke-width="1.0"/>
<line x1="198.35" y1="488.8" x2="205.85" y2="488.8" stroke="#000" stroke-width="1.0"/>
<rect x="195.1" y="491.6" width="14" height="22.4" fill="#fff" stroke="#000" stroke-width="1.0"/>
<rect x="124.6" y="455.5" width="87.3" height="59" fill="none" stroke="#000" stroke-width="1.0"/>
<line x1="122.6" y1="514.5" x2="124.6" y2="514.5" stroke="#000" stroke-width="1.0"/>
<text x="122.1" y="516.43" font-size="5.6" text-anchor="end" font-weight="bold" >0</text>
<line x1="122.6" y1="504.67" x2="124.6" y2="504.67" stroke="#000" stroke-width="1.0"/>
<text x="122.1" y="506.59" font-size="5.6" text-anchor="end" font-weight="bold" >5</text>
<line x1="122.6" y1="494.83" x2="124.6" y2="494.83" stroke="#000" stroke-width="1.0"/>
<text x="122.1" y="496.76" font-size="5.6" text-anchor="end" font-weight="bold" >10</text>
<line x1="122.6" y1="485" x2="124.6" y2="485" stroke="#000" stroke-width="1.0"/>
<text x="122.1" y="486.93" font-size="5.6" text-anchor="end" font-weight="bold" >15</text>
<line x1="122.6" y1="475.17" x2="124.6" y2="475.17" stroke="#000" stroke-width="1.0"/>
<text x="122.1" y="477.09" font-size="5.6" text-anchor="end" font-weight="bold" >20</text>
<line x1="122.6" y1="465.33" x2="124.6" y2="465.33" stroke="#000" stroke-width="1.0"/>
<text x="122.1" y="467.26" font-size="5.6" text-anchor="end" font-weight="bold" >25</text>
<line x1="122.6" y1="455.5" x2="124.6" y2="455.5" stroke="#000" stroke-width="1.0"/>
<text x="122.1" y="457.43" font-size="5.6" text-anchor="end" font-weight="bold" >30</text>
<line x1="135.8" y1="514.5" x2="135.8" y2="516.5" stroke="#000" stroke-width="1.0"/>
<text x="135.8" y="522.43" font-size="5.6" text-anchor="middle" font-weight="bold" >C</text>
<line x1="157.8" y1="514.5" x2="157.8" y2="516.5" stroke="#000" stroke-width="1.0"/>
<text x="157.8" y="522.43" font-size="5.6" text-anchor="middle" font-weight="bold" >C</text>
<line x1="180.2" y1="514.5" x2="180.2" y2="516.5" stroke="#000" stroke-width="1.0"/>
<text x="179.7" y="522.43" font-size="5.6" text-anchor="middle" font-weight="bold" >LPS</text>
<line x1="202.1" y1="514.5" x2="202.1" y2="516.5" stroke="#000" stroke-width="1.0"/>
<text x="201.6" y="522.43" font-size="5.6" text-anchor="middle" font-weight="bold" >LPS</text>
<text x="169.2" y="451.93" font-size="5.6" text-anchor="middle" font-weight="bold" >VCAM-1 Lung</text>
<rect x="129.5" y="467.3" width="7.4" height="4.8" fill="#000"/>
<rect x="130" y="474.7" width="6.4" height="3.8" fill="#fff" stroke="#000" stroke-width="1.0"/>
<text x="139.1" y="471.63" font-size="5.6" text-anchor="start" font-weight="bold" >V</text>
<text x="139.1" y="478.53" font-size="5.6" text-anchor="start" font-weight="bold" >JTE013</text>
<text x="179.6" y="478.33" font-size="10.22" text-anchor="middle" font-weight="bold">*</text>
<text x="202" y="491.73" font-size="10.22" text-anchor="middle" font-weight="bold">*</text>
<text x="191.9" y="464.43" font-size="10.22" text-anchor="middle" font-weight="bold">*</text>
<polyline points="179.6,463.5 179.6,461.5 202,461.5 202,463.5" fill="none" stroke="#000" stroke-width="1.0"/>
<rect x="229.9" y="505.9" width="15.5" height="8.7" fill="#000"/>
<line x1="260.05" y1="509.3" x2="260.05" y2="508.4" stroke="#000" stroke-width="1.0"/>
<line x1="256.18" y1="508.4" x2="263.93" y2="508.4" stroke="#000" stroke-width="1.0"/>
<rect x="252.8" y="509.8" width="14.5" height="4.3" fill="#fff" stroke="#000" stroke-width="1.0"/>
<line x1="282.4" y1="469.6" x2="282.4" y2="467.3" stroke="#000" stroke-width="1.0"/>
<line x1="278.65" y1="467.3" x2="286.15" y2="467.3" stroke="#000" stroke-width="1.0"/>
<rect x="274.9" y="469.6" width="15" height="45" fill="#000"/>
<line x1="304.45" y1="487.6" x2="304.45" y2="484.2" stroke="#000" stroke-width="1.0"/>
<line x1="300.88" y1="484.2" x2="308.03" y2="484.2" stroke="#000" stroke-width="1.0"/>
<rect x="297.8" y="488.1" width="13.3" height="26" fill="#fff" stroke="#000" stroke-width="1.0"/>
<rect x="226.9" y="455.8" width="88.5" height="58.8" fill="none" stroke="#000" stroke-width="1.0"/>
<line x1="224.9" y1="514.6" x2="226.9" y2="514.6" stroke="#000" stroke-width="1.0"/>
<text x="224.4" y="516.53" font-size="5.6" text-anchor="end" font-weight="bold" >0</text>
<line x1="224.9" y1="499.9" x2="226.9" y2="499.9" stroke="#000" stroke-width="1.0"/>
<text x="224.4" y="501.83" font-size="5.6" text-anchor="end" font-weight="bold" >10</text>
<line x1="224.9" y1="485.2" x2="226.9" y2="485.2" stroke="#000" stroke-width="1.0"/>
<text x="224.4" y="487.13" font-size="5.6" text-anchor="end" font-weight="bold" >20</text>
<line x1="224.9" y1="470.5" x2="226.9" y2="470.5" stroke="#000" stroke-width="1.0"/>
<text x="224.4" y="472.43" font-size="5.6" text-anchor="end" font-weight="bold" >30</text>
<line x1="224.9" y1="455.8" x2="226.9" y2="455.8" stroke="#000" stroke-width="1.0"/>
<text x="224.4" y="457.73" font-size="5.6" text-anchor="end" font-weight="bold" >40</text>
<line x1="237.65" y1="514.6" x2="237.65" y2="516.6" stroke="#000" stroke-width="1.0"/>
<text x="237.65" y="522.43" font-size="5.6" text-anchor="middle" font-weight="bold" >C</text>
<line x1="260.05" y1="514.6" x2="260.05" y2="516.6" stroke="#000" stroke-width="1.0"/>
<text x="260.05" y="522.43" font-size="5.6" text-anchor="middle" font-weight="bold" >C</text>
<line x1="282.4" y1="514.6" x2="282.4" y2="516.6" stroke="#000" stroke-width="1.0"/>
<text x="281.9" y="522.43" font-size="5.6" text-anchor="middle" font-weight="bold" >LPS</text>
<line x1="304.45" y1="514.6" x2="304.45" y2="516.6" stroke="#000" stroke-width="1.0"/>
<text x="303.95" y="522.43" font-size="5.6" text-anchor="middle" font-weight="bold" >LPS</text>
<text x="270.8" y="451.93" font-size="5.6" text-anchor="middle" font-weight="bold" >ICAM-1 Lung</text>
<rect x="231.5" y="471.9" width="7.4" height="4.8" fill="#000"/>
<rect x="232" y="480" width="6.4" height="3.8" fill="#fff" stroke="#000" stroke-width="1.0"/>
<text x="241.1" y="476.23" font-size="5.6" text-anchor="start" font-weight="bold" >V</text>
<text x="241.1" y="483.83" font-size="5.6" text-anchor="start" font-weight="bold" >JTE013</text>
<text x="282.3" y="470.93" font-size="10.22" text-anchor="middle" font-weight="bold">*</text>
<text x="304.7" y="485.93" font-size="10.22" text-anchor="middle" font-weight="bold">*</text>
<text x="293.9" y="463.53" font-size="10.22" text-anchor="middle" font-weight="bold">*</text>
<polyline points="282.3,463.1 282.3,461.1 304.2,461.1 304.2,463.1" fill="none" stroke="#000" stroke-width="1.0"/>
<rect x="334.3" y="504.2" width="14.5" height="10.4" fill="#000"/>
<line x1="363.7" y1="506.5" x2="363.7" y2="505.4" stroke="#000" stroke-width="1.0"/>
<line x1="359.95" y1="505.4" x2="367.45" y2="505.4" stroke="#000" stroke-width="1.0"/>
<rect x="356.7" y="507" width="14" height="7.1" fill="#fff" stroke="#000" stroke-width="1.0"/>
<line x1="385.9" y1="474.7" x2="385.9" y2="473.5" stroke="#000" stroke-width="1.0"/>
<line x1="382.15" y1="473.5" x2="389.65" y2="473.5" stroke="#000" stroke-width="1.0"/>
<rect x="378.4" y="474.7" width="15" height="39.9" fill="#000"/>
<line x1="408.1" y1="486.9" x2="408.1" y2="484.6" stroke="#000" stroke-width="1.0"/>
<line x1="404.45" y1="484.6" x2="411.75" y2="484.6" stroke="#000" stroke-width="1.0"/>
<rect x="401.3" y="487.4" width="13.6" height="26.7" fill="#fff" stroke="#000" stroke-width="1.0"/>
<rect x="330.4" y="455.8" width="88.4" height="58.8" fill="none" stroke="#000" stroke-width="1.0"/>
<line x1="328.4" y1="514.6" x2="330.4" y2="514.6" stroke="#000" stroke-width="1.0"/>
<text x="327.9" y="516.53" font-size="5.6" text-anchor="end" font-weight="bold" >0</text>
<line x1="328.4" y1="502.84" x2="330.4" y2="502.84" stroke="#000" stroke-width="1.0"/>
<text x="327.9" y="504.77" font-size="5.6" text-anchor="end" font-weight="bold" >10</text>
<line x1="328.4" y1="491.08" x2="330.4" y2="491.08" stroke="#000" stroke-width="1.0"/>
<text x="327.9" y="493.01" font-size="5.6" text-anchor="end" font-weight="bold" >20</text>
<line x1="328.4" y1="479.32" x2="330.4" y2="479.32" stroke="#000" stroke-width="1.0"/>
<text x="327.9" y="481.25" font-size="5.6" text-anchor="end" font-weight="bold" >30</text>
<line x1="328.4" y1="467.56" x2="330.4" y2="467.56" stroke="#000" stroke-width="1.0"/>
<text x="327.9" y="469.49" font-size="5.6" text-anchor="end" font-weight="bold" >40</text>
<line x1="328.4" y1="455.8" x2="330.4" y2="455.8" stroke="#000" stroke-width="1.0"/>
<text x="327.9" y="457.73" font-size="5.6" text-anchor="end" font-weight="bold" >50</text>
<line x1="341.55" y1="514.6" x2="341.55" y2="516.6" stroke="#000" stroke-width="1.0"/>
<text x="341.55" y="522.43" font-size="5.6" text-anchor="middle" font-weight="bold" >C</text>
<line x1="363.7" y1="514.6" x2="363.7" y2="516.6" stroke="#000" stroke-width="1.0"/>
<text x="363.7" y="522.43" font-size="5.6" text-anchor="middle" font-weight="bold" >C</text>
<line x1="385.9" y1="514.6" x2="385.9" y2="516.6" stroke="#000" stroke-width="1.0"/>
<text x="385.4" y="522.43" font-size="5.6" text-anchor="middle" font-weight="bold" >LPS</text>
<line x1="408.1" y1="514.6" x2="408.1" y2="516.6" stroke="#000" stroke-width="1.0"/>
<text x="407.6" y="522.43" font-size="5.6" text-anchor="middle" font-weight="bold" >LPS</text>
<text x="374.2" y="451.93" font-size="5.6" text-anchor="middle" font-weight="bold" >TF Lung</text>
<rect x="335.5" y="470.8" width="7.4" height="4.8" fill="#000"/>
<rect x="336" y="478.2" width="6.4" height="3.8" fill="#fff" stroke="#000" stroke-width="1.0"/>
<text x="345.1" y="475.13" font-size="5.6" text-anchor="start" font-weight="bold" >V</text>
<text x="345.1" y="482.03" font-size="5.6" text-anchor="start" font-weight="bold" >JTE013</text>
<text x="385.8" y="476.03" font-size="10.22" text-anchor="middle" font-weight="bold">*</text>
<text x="408.2" y="487.13" font-size="10.22" text-anchor="middle" font-weight="bold">*</text>
<text x="397.3" y="464.73" font-size="10.22" text-anchor="middle" font-weight="bold">*</text>
<polyline points="385.8,464.2 385.8,462.2 408.2,462.2 408.2,464.2" fill="none" stroke="#000" stroke-width="1.0"/>
<rect x="433.6" y="513" width="15.1" height="1.6" fill="#000"/>
<line x1="462.9" y1="506.5" x2="462.9" y2="503.1" stroke="#000" stroke-width="1.0"/>
<line x1="459.15" y1="503.1" x2="466.65" y2="503.1" stroke="#000" stroke-width="1.0"/>
<rect x="455.9" y="507" width="14" height="7.1" fill="#fff" stroke="#000" stroke-width="1.0"/>
<line x1="485.4" y1="480" x2="485.4" y2="471.9" stroke="#000" stroke-width="1.0"/>
<line x1="481.7" y1="471.9" x2="489.1" y2="471.9" stroke="#000" stroke-width="1.0"/>
<rect x="478" y="480" width="14.8" height="34.6" fill="#000"/>
<line x1="507.5" y1="506.1" x2="507.5" y2="504.2" stroke="#000" stroke-width="1.0"/>
<line x1="503.75" y1="504.2" x2="511.25" y2="504.2" stroke="#000" stroke-width="1.0"/>
<rect x="500.5" y="506.6" width="14" height="7.5" fill="#fff" stroke="#000" stroke-width="1.0"/>
<rect x="430.4" y="455.8" width="88.2" height="58.8" fill="none" stroke="#000" stroke-width="1.0"/>
<line x1="428.4" y1="514.6" x2="430.4" y2="514.6" stroke="#000" stroke-width="1.0"/>
<text x="427.9" y="516.53" font-size="5.6" text-anchor="end" font-weight="bold" >0</text>
<line x1="428.4" y1="495" x2="430.4" y2="495" stroke="#000" stroke-width="1.0"/>
<text x="427.9" y="496.93" font-size="5.6" text-anchor="end" font-weight="bold" >10</text>
<line x1="428.4" y1="475.4" x2="430.4" y2="475.4" stroke="#000" stroke-width="1.0"/>
<text x="427.9" y="477.33" font-size="5.6" text-anchor="end" font-weight="bold" >20</text>
<line x1="428.4" y1="455.8" x2="430.4" y2="455.8" stroke="#000" stroke-width="1.0"/>
<text x="427.9" y="457.73" font-size="5.6" text-anchor="end" font-weight="bold" >30</text>
<line x1="441.15" y1="514.6" x2="441.15" y2="516.6" stroke="#000" stroke-width="1.0"/>
<text x="441.15" y="522.43" font-size="5.6" text-anchor="middle" font-weight="bold" >C</text>
<line x1="462.9" y1="514.6" x2="462.9" y2="516.6" stroke="#000" stroke-width="1.0"/>
<text x="462.9" y="522.43" font-size="5.6" text-anchor="middle" font-weight="bold" >C</text>
<line x1="485.4" y1="514.6" x2="485.4" y2="516.6" stroke="#000" stroke-width="1.0"/>
<text x="484.9" y="522.43" font-size="5.6" text-anchor="middle" font-weight="bold" >LPS</text>
<line x1="507.5" y1="514.6" x2="507.5" y2="516.6" stroke="#000" stroke-width="1.0"/>
<text x="507" y="522.43" font-size="5.6" text-anchor="middle" font-weight="bold" >LPS</text>
<text x="473.8" y="451.93" font-size="5.6" text-anchor="middle" font-weight="bold" >MCP-1 Lung</text>
<rect x="434.6" y="471.9" width="7.4" height="4.8" fill="#000"/>
<rect x="435.1" y="480.5" width="6.4" height="3.8" fill="#fff" stroke="#000" stroke-width="1.0"/>
<text x="444.2" y="476.23" font-size="5.6" text-anchor="start" font-weight="bold" >V</text>
<text x="444.2" y="484.33" font-size="5.6" text-anchor="start" font-weight="bold" >JTE013</text>
<text x="485.9" y="475.53" font-size="10.22" text-anchor="middle" font-weight="bold">*</text>
<text x="507.5" y="506.73" font-size="10.22" text-anchor="middle" font-weight="bold">*</text>
<text x="497.4" y="464.03" font-size="10.22" text-anchor="middle" font-weight="bold">*</text>
<polyline points="485.9,464 485.9,462 507.5,462 507.5,464" fill="none" stroke="#000" stroke-width="1.0"/>
<line x1="33.65" y1="593.4" x2="33.65" y2="589.2" stroke="#000" stroke-width="1.0"/>
<line x1="29.72" y1="589.2" x2="37.57" y2="589.2" stroke="#000" stroke-width="1.0"/>
<rect x="25.8" y="593.4" width="15.7" height="13.4" fill="#000"/>
<line x1="57" y1="591.1" x2="57" y2="580.5" stroke="#000" stroke-width="1.0"/>
<line x1="52.95" y1="580.5" x2="61.05" y2="580.5" stroke="#000" stroke-width="1.0"/>
<rect x="49.4" y="591.6" width="15.2" height="14.7" fill="#fff" stroke="#000" stroke-width="1.0"/>
<line x1="79.35" y1="565.7" x2="79.35" y2="564.3" stroke="#000" stroke-width="1.0"/>
<line x1="75.42" y1="564.3" x2="83.27" y2="564.3" stroke="#000" stroke-width="1.0"/>
<rect x="71.5" y="565.7" width="15.7" height="41.1" fill="#000"/>
<line x1="100.5" y1="582.3" x2="100.5" y2="578.4" stroke="#000" stroke-width="1.0"/>
<line x1="96.75" y1="578.4" x2="104.25" y2="578.4" stroke="#000" stroke-width="1.0"/>
<rect x="93.5" y="582.8" width="14" height="23.5" fill="#fff" stroke="#000" stroke-width="1.0"/>
<rect x="22.2" y="546.8" width="89.1" height="60" fill="none" stroke="#000" stroke-width="1.0"/>
<line x1="20.2" y1="606.8" x2="22.2" y2="606.8" stroke="#000" stroke-width="1.0"/>
<text x="19.7" y="608.73" font-size="5.6" text-anchor="end" font-weight="bold" >0.0</text>
<line x1="20.2" y1="596.8" x2="22.2" y2="596.8" stroke="#000" stroke-width="1.0"/>
<text x="19.7" y="598.73" font-size="5.6" text-anchor="end" font-weight="bold" >0.2</text>
<line x1="20.2" y1="586.8" x2="22.2" y2="586.8" stroke="#000" stroke-width="1.0"/>
<text x="19.7" y="588.73" font-size="5.6" text-anchor="end" font-weight="bold" >0.4</text>
<line x1="20.2" y1="576.8" x2="22.2" y2="576.8" stroke="#000" stroke-width="1.0"/>
<text x="19.7" y="578.73" font-size="5.6" text-anchor="end" font-weight="bold" >0.6</text>
<line x1="20.2" y1="566.8" x2="22.2" y2="566.8" stroke="#000" stroke-width="1.0"/>
<text x="19.7" y="568.73" font-size="5.6" text-anchor="end" font-weight="bold" >0.8</text>
<line x1="20.2" y1="556.8" x2="22.2" y2="556.8" stroke="#000" stroke-width="1.0"/>
<text x="19.7" y="558.73" font-size="5.6" text-anchor="end" font-weight="bold" >1.0</text>
<line x1="20.2" y1="546.8" x2="22.2" y2="546.8" stroke="#000" stroke-width="1.0"/>
<text x="19.7" y="548.73" font-size="5.6" text-anchor="end" font-weight="bold" >1.2</text>
<line x1="33.65" y1="606.8" x2="33.65" y2="608.8" stroke="#000" stroke-width="1.0"/>
<text x="33.65" y="614.53" font-size="5.6" text-anchor="middle" font-weight="bold" >C</text>
<line x1="57" y1="606.8" x2="57" y2="608.8" stroke="#000" stroke-width="1.0"/>
<text x="57" y="614.53" font-size="5.6" text-anchor="middle" font-weight="bold" >C</text>
<line x1="79.35" y1="606.8" x2="79.35" y2="608.8" stroke="#000" stroke-width="1.0"/>
<text x="78.85" y="614.53" font-size="5.6" text-anchor="middle" font-weight="bold" >LPS</text>
<line x1="100.5" y1="606.8" x2="100.5" y2="608.8" stroke="#000" stroke-width="1.0"/>
<text x="100" y="614.53" font-size="5.6" text-anchor="middle" font-weight="bold" >LPS</text>
<text x="68" y="542.73" font-size="5.6" text-anchor="middle" font-weight="bold" >E-Selectin Kidney</text>
<rect x="26.5" y="554.2" width="7.4" height="5" fill="#000"/>
<rect x="27" y="562" width="6.4" height="4" fill="#fff" stroke="#000" stroke-width="1.0"/>
<text x="36.1" y="558.63" font-size="5.6" text-anchor="start" font-weight="bold" >V</text>
<text x="36.1" y="565.93" font-size="5.6" text-anchor="start" font-weight="bold" >JTE013</text>
<text x="79.6" y="567.03" font-size="10.22" text-anchor="middle" font-weight="bold">*</text>
<text x="90" y="555.43" font-size="10.22" text-anchor="middle" font-weight="bold">*</text>
<polyline points="79.6,555 79.6,553 101.1,553 101.1,555" fill="none" stroke="#000" stroke-width="1.0"/>
<rect x="127.7" y="602.8" width="15.7" height="4" fill="#000"/>
<rect x="150.8" y="603.3" width="14.5" height="3" fill="#fff" stroke="#000" stroke-width="1.0"/>
<line x1="179.95" y1="568.4" x2="179.95" y2="564.7" stroke="#000" stroke-width="1.0"/>
<line x1="176.07" y1="564.7" x2="183.82" y2="564.7" stroke="#000" stroke-width="1.0"/>
<rect x="172.2" y="568.4" width="15.5" height="38.4" fill="#000"/>
<line x1="201.9" y1="583.9" x2="201.9" y2="578.5" stroke="#000" stroke-width="1.0"/>
<line x1="198.05" y1="578.5" x2="205.75" y2="578.5" stroke="#000" stroke-width="1.0"/>
<rect x="194.7" y="584.4" width="14.4" height="21.9" fill="#fff" stroke="#000" stroke-width="1.0"/>
<rect x="124.3" y="548.4" width="88.5" height="58.4" fill="none" stroke="#000" stroke-width="1.0"/>
<line x1="122.3" y1="606.8" x2="124.3" y2="606.8" stroke="#000" stroke-width="1.0"/>
<text x="121.8" y="608.73" font-size="5.6" text-anchor="end" font-weight="bold" >0</text>
<line x1="122.3" y1="597.07" x2="124.3" y2="597.07" stroke="#000" stroke-width="1.0"/>
<text x="121.8" y="598.99" font-size="5.6" text-anchor="end" font-weight="bold" >2</text>
<line x1="122.3" y1="587.33" x2="124.3" y2="587.33" stroke="#000" stroke-width="1.0"/>
<text x="121.8" y="589.26" font-size="5.6" text-anchor="end" font-weight="bold" >4</text>
<line x1="122.3" y1="577.6" x2="124.3" y2="577.6" stroke="#000" stroke-width="1.0"/>
<text x="121.8" y="579.53" font-size="5.6" text-anchor="end" font-weight="bold" >6</text>
<line x1="122.3" y1="567.87" x2="124.3" y2="567.87" stroke="#000" stroke-width="1.0"/>
<text x="121.8" y="569.79" font-size="5.6" text-anchor="end" font-weight="bold" >8</text>
<line x1="122.3" y1="558.13" x2="124.3" y2="558.13" stroke="#000" stroke-width="1.0"/>
<text x="121.8" y="560.06" font-size="5.6" text-anchor="end" font-weight="bold" >10</text>
<line x1="122.3" y1="548.4" x2="124.3" y2="548.4" stroke="#000" stroke-width="1.0"/>
<text x="121.8" y="550.33" font-size="5.6" text-anchor="end" font-weight="bold" >12</text>
<line x1="135.55" y1="606.8" x2="135.55" y2="608.8" stroke="#000" stroke-width="1.0"/>
<text x="135.55" y="614.53" font-size="5.6" text-anchor="middle" font-weight="bold" >C</text>
<line x1="158.05" y1="606.8" x2="158.05" y2="608.8" stroke="#000" stroke-width="1.0"/>
<text x="158.05" y="614.53" font-size="5.6" text-anchor="middle" font-weight="bold" >C</text>
<line x1="179.95" y1="606.8" x2="179.95" y2="608.8" stroke="#000" stroke-width="1.0"/>
<text x="179.45" y="614.53" font-size="5.6" text-anchor="middle" font-weight="bold" >LPS</text>
<line x1="201.9" y1="606.8" x2="201.9" y2="608.8" stroke="#000" stroke-width="1.0"/>
<text x="201.4" y="614.53" font-size="5.6" text-anchor="middle" font-weight="bold" >LPS</text>
<text x="168.9" y="542.13" font-size="5.6" text-anchor="middle" font-weight="bold" >VCAM-1 Kidney</text>
<rect x="128.8" y="560.8" width="7.4" height="5" fill="#000"/>
<rect x="129.3" y="568.7" width="6.4" height="4" fill="#fff" stroke="#000" stroke-width="1.0"/>
<text x="138.4" y="565.23" font-size="5.6" text-anchor="start" font-weight="bold" >V</text>
<text x="138.4" y="572.63" font-size="5.6" text-anchor="start" font-weight="bold" >JTE013</text>
<text x="179.6" y="566.73" font-size="10.22" text-anchor="middle" font-weight="bold">*</text>
<text x="201.5" y="580.53" font-size="10.22" text-anchor="middle" font-weight="bold">*</text>
<text x="191.9" y="556.93" font-size="10.22" text-anchor="middle" font-weight="bold">*</text>
<polyline points="179.6,556.3 179.6,554.3 201.5,554.3 201.5,556.3" fill="none" stroke="#000" stroke-width="1.0"/>
<line x1="282.05" y1="565.4" x2="282.05" y2="562.4" stroke="#000" stroke-width="1.0"/>
<line x1="278.12" y1="562.4" x2="285.97" y2="562.4" stroke="#000" stroke-width="1.0"/>
<rect x="274.2" y="565.4" width="15.7" height="41.4" fill="#000"/>
<line x1="304.4" y1="590.8" x2="304.4" y2="584.3" stroke="#000" stroke-width="1.0"/>
<line x1="300.65" y1="584.3" x2="308.15" y2="584.3" stroke="#000" stroke-width="1.0"/>
<rect x="297.4" y="591.3" width="14" height="15" fill="#fff" stroke="#000" stroke-width="1.0"/>
<rect x="227.1" y="548.1" width="88.3" height="58.7" fill="none" stroke="#000" stroke-width="1.0"/>
<line x1="225.1" y1="606.8" x2="227.1" y2="606.8" stroke="#000" stroke-width="1.0"/>
<text x="224.6" y="608.73" font-size="5.6" text-anchor="end" font-weight="bold" >0</text>
<line x1="225.1" y1="592.12" x2="227.1" y2="592.12" stroke="#000" stroke-width="1.0"/>
<text x="224.6" y="594.05" font-size="5.6" text-anchor="end" font-weight="bold" >5</text>
<line x1="225.1" y1="577.45" x2="227.1" y2="577.45" stroke="#000" stroke-width="1.0"/>
<text x="224.6" y="579.38" font-size="5.6" text-anchor="end" font-weight="bold" >10</text>
<line x1="225.1" y1="562.77" x2="227.1" y2="562.77" stroke="#000" stroke-width="1.0"/>
<text x="224.6" y="564.7" font-size="5.6" text-anchor="end" font-weight="bold" >15</text>
<line x1="225.1" y1="548.1" x2="227.1" y2="548.1" stroke="#000" stroke-width="1.0"/>
<text x="224.6" y="550.03" font-size="5.6" text-anchor="end" font-weight="bold" >20</text>
<line x1="238.65" y1="606.8" x2="238.65" y2="608.8" stroke="#000" stroke-width="1.0"/>
<text x="238.65" y="614.53" font-size="5.6" text-anchor="middle" font-weight="bold" >C</text>
<line x1="260.35" y1="606.8" x2="260.35" y2="608.8" stroke="#000" stroke-width="1.0"/>
<text x="260.35" y="614.53" font-size="5.6" text-anchor="middle" font-weight="bold" >C</text>
<line x1="282.05" y1="606.8" x2="282.05" y2="608.8" stroke="#000" stroke-width="1.0"/>
<text x="281.55" y="614.53" font-size="5.6" text-anchor="middle" font-weight="bold" >LPS</text>
<line x1="304.4" y1="606.8" x2="304.4" y2="608.8" stroke="#000" stroke-width="1.0"/>
<text x="303.9" y="614.53" font-size="5.6" text-anchor="middle" font-weight="bold" >LPS</text>
<text x="270.8" y="542.13" font-size="5.6" text-anchor="middle" font-weight="bold" >ICAM-1 Kidney</text>
<rect x="231.5" y="561.5" width="7.4" height="4.6" fill="#000"/>
<rect x="232" y="568.9" width="6.4" height="3.6" fill="#fff" stroke="#000" stroke-width="1.0"/>
<text x="241.1" y="565.73" font-size="5.6" text-anchor="start" font-weight="bold" >V</text>
<text x="241.1" y="572.63" font-size="5.6" text-anchor="start" font-weight="bold" >JTE013</text>
<text x="282.3" y="565.13" font-size="10.22" text-anchor="middle" font-weight="bold">*</text>
<text x="293.2" y="556.73" font-size="10.22" text-anchor="middle" font-weight="bold">*</text>
<polyline points="282.3,555.8 282.3,553.8 304.2,553.8 304.2,555.8" fill="none" stroke="#000" stroke-width="1.0"/>
<rect x="333.3" y="605.9" width="15.8" height="0.9" fill="#000"/>
<rect x="355.9" y="605.5" width="15.5" height="1.3" fill="#000"/>
<line x1="385.45" y1="573.5" x2="385.45" y2="569.3" stroke="#000" stroke-width="1.0"/>
<line x1="381.57" y1="569.3" x2="389.32" y2="569.3" stroke="#000" stroke-width="1.0"/>
<rect x="377.7" y="573.5" width="15.5" height="33.3" fill="#000"/>
<line x1="407.85" y1="602.3" x2="407.85" y2="600" stroke="#000" stroke-width="1.0"/>
<line x1="403.98" y1="600" x2="411.73" y2="600" stroke="#000" stroke-width="1.0"/>
<rect x="400.6" y="602.8" width="14.5" height="3.5" fill="#fff" stroke="#000" stroke-width="1.0"/>
<rect x="330.1" y="548.1" width="88.7" height="58.7" fill="none" stroke="#000" stroke-width="1.0"/>
<line x1="328.1" y1="606.8" x2="330.1" y2="606.8" stroke="#000" stroke-width="1.0"/>
<text x="327.6" y="608.73" font-size="5.6" text-anchor="end" font-weight="bold" >0</text>
<line x1="328.1" y1="592.12" x2="330.1" y2="592.12" stroke="#000" stroke-width="1.0"/>
<text x="327.6" y="594.05" font-size="5.6" text-anchor="end" font-weight="bold" >100</text>
<line x1="328.1" y1="577.45" x2="330.1" y2="577.45" stroke="#000" stroke-width="1.0"/>
<text x="327.6" y="579.38" font-size="5.6" text-anchor="end" font-weight="bold" >200</text>
<line x1="328.1" y1="562.77" x2="330.1" y2="562.77" stroke="#000" stroke-width="1.0"/>
<text x="327.6" y="564.7" font-size="5.6" text-anchor="end" font-weight="bold" >300</text>
<line x1="328.1" y1="548.1" x2="330.1" y2="548.1" stroke="#000" stroke-width="1.0"/>
<text x="327.6" y="550.03" font-size="5.6" text-anchor="end" font-weight="bold" >400</text>
<line x1="341.2" y1="606.8" x2="341.2" y2="608.8" stroke="#000" stroke-width="1.0"/>
<text x="341.2" y="614.53" font-size="5.6" text-anchor="middle" font-weight="bold" >C</text>
<line x1="363.65" y1="606.8" x2="363.65" y2="608.8" stroke="#000" stroke-width="1.0"/>
<text x="363.65" y="614.53" font-size="5.6" text-anchor="middle" font-weight="bold" >C</text>
<line x1="385.45" y1="606.8" x2="385.45" y2="608.8" stroke="#000" stroke-width="1.0"/>
<text x="384.95" y="614.53" font-size="5.6" text-anchor="middle" font-weight="bold" >LPS</text>
<line x1="407.85" y1="606.8" x2="407.85" y2="608.8" stroke="#000" stroke-width="1.0"/>
<text x="407.35" y="614.53" font-size="5.6" text-anchor="middle" font-weight="bold" >LPS</text>
<text x="374.2" y="542.13" font-size="5.6" text-anchor="middle" font-weight="bold" >TF Kidney</text>
<rect x="335" y="560.8" width="7.4" height="5" fill="#000"/>
<rect x="335.5" y="568.7" width="6.4" height="4" fill="#fff" stroke="#000" stroke-width="1.0"/>
<text x="344.6" y="565.23" font-size="5.6" text-anchor="start" font-weight="bold" >V</text>
<text x="344.6" y="572.63" font-size="5.6" text-anchor="start" font-weight="bold" >JTE013</text>
<text x="385.8" y="571.33" font-size="10.22" text-anchor="middle" font-weight="bold">*</text>
<text x="396.2" y="556.73" font-size="10.22" text-anchor="middle" font-weight="bold">*</text>
<polyline points="385.8,555.8 385.8,553.8 406.5,553.8 406.5,555.8" fill="none" stroke="#000" stroke-width="1.0"/>
<rect x="433.4" y="605.6" width="15.3" height="1.2" fill="#000"/>
<rect x="455.4" y="605.5" width="15" height="1.3" fill="#000"/>
<line x1="485.5" y1="564.2" x2="485.5" y2="559.6" stroke="#000" stroke-width="1.0"/>
<line x1="481.75" y1="559.6" x2="489.25" y2="559.6" stroke="#000" stroke-width="1.0"/>
<rect x="478" y="564.2" width="15" height="42.6" fill="#000"/>
<line x1="507.5" y1="600.5" x2="507.5" y2="598.4" stroke="#000" stroke-width="1.0"/>
<line x1="503.75" y1="598.4" x2="511.25" y2="598.4" stroke="#000" stroke-width="1.0"/>
<rect x="500.5" y="601" width="14" height="5.3" fill="#fff" stroke="#000" stroke-width="1.0"/>
<rect x="430.3" y="547.9" width="88.3" height="58.9" fill="none" stroke="#000" stroke-width="1.0"/>
<line x1="428.3" y1="606.8" x2="430.3" y2="606.8" stroke="#000" stroke-width="1.0"/>
<text x="427.8" y="608.73" font-size="5.6" text-anchor="end" font-weight="bold" >0</text>
<line x1="428.3" y1="592.07" x2="430.3" y2="592.07" stroke="#000" stroke-width="1.0"/>
<text x="427.8" y="594" font-size="5.6" text-anchor="end" font-weight="bold" >10</text>
<line x1="428.3" y1="577.35" x2="430.3" y2="577.35" stroke="#000" stroke-width="1.0"/>
<text x="427.8" y="579.28" font-size="5.6" text-anchor="end" font-weight="bold" >20</text>
<line x1="428.3" y1="562.62" x2="430.3" y2="562.62" stroke="#000" stroke-width="1.0"/>
<text x="427.8" y="564.55" font-size="5.6" text-anchor="end" font-weight="bold" >30</text>
<line x1="428.3" y1="547.9" x2="430.3" y2="547.9" stroke="#000" stroke-width="1.0"/>
<text x="427.8" y="549.83" font-size="5.6" text-anchor="end" font-weight="bold" >40</text>
<line x1="441.05" y1="606.8" x2="441.05" y2="608.8" stroke="#000" stroke-width="1.0"/>
<text x="441.05" y="614.53" font-size="5.6" text-anchor="middle" font-weight="bold" >C</text>
<line x1="462.9" y1="606.8" x2="462.9" y2="608.8" stroke="#000" stroke-width="1.0"/>
<text x="462.9" y="614.53" font-size="5.6" text-anchor="middle" font-weight="bold" >C</text>
<line x1="485.5" y1="606.8" x2="485.5" y2="608.8" stroke="#000" stroke-width="1.0"/>
<text x="485" y="614.53" font-size="5.6" text-anchor="middle" font-weight="bold" >LPS</text>
<line x1="507.5" y1="606.8" x2="507.5" y2="608.8" stroke="#000" stroke-width="1.0"/>
<text x="507" y="614.53" font-size="5.6" text-anchor="middle" font-weight="bold" >LPS</text>
<text x="474.3" y="542.33" font-size="5.6" text-anchor="middle" font-weight="bold" >MCP-1 Kidney</text>
<rect x="434.6" y="563.2" width="7.4" height="4.6" fill="#000"/>
<rect x="435.1" y="570.8" width="6.4" height="3.6" fill="#fff" stroke="#000" stroke-width="1.0"/>
<text x="444.2" y="567.43" font-size="5.6" text-anchor="start" font-weight="bold" >V</text>
<text x="444.2" y="574.53" font-size="5.6" text-anchor="start" font-weight="bold" >JTE013</text>
<text x="485.9" y="562.53" font-size="10.22" text-anchor="middle" font-weight="bold">*</text>
<text x="507.3" y="601.33" font-size="10.22" text-anchor="middle" font-weight="bold">*</text>
<text x="497.6" y="555.13" font-size="10.22" text-anchor="middle" font-weight="bold">*</text>
<polyline points="485.9,554.2 485.9,552.2 508,552.2 508,554.2" fill="none" stroke="#000" stroke-width="1.0"/>
<text x="156" y="8.88" font-size="11" text-anchor="start" font-weight="bold" >A</text>
<text x="0.2" y="140.81" font-size="10.5" text-anchor="start" font-weight="bold" >B</text>
<text x="0.6" y="354.72" font-size="10.8" text-anchor="start" font-weight="bold" >C</text>
<text x="0.3" y="443.05" font-size="10.6" text-anchor="start" font-weight="bold" >D</text>
<text x="0.8" y="537.91" font-size="10.2" text-anchor="start" font-weight="bold" >E</text>
<text transform="translate(171.8,52.4) rotate(-90)" x="0" y="3.41" font-size="9.9" text-anchor="middle" font-weight="bold">plasma IL-6 (ng/mL)</text>
<text transform="translate(37.2,180.9) rotate(-90)" x="0" y="2.86" font-size="8.3" text-anchor="middle" font-weight="bold">Vascular Permeability</text>
<text transform="translate(48.1,181.2) rotate(-90)" x="0" y="2.86" font-size="8.3" text-anchor="middle" font-weight="bold">(Arbitrary Units)</text>
<text transform="translate(44,288.3) rotate(-90)" x="0" y="2.79" font-size="8.1" text-anchor="middle" font-weight="bold">Vascular Permeability</text>
<text transform="translate(53.4,288.7) rotate(-90)" x="0" y="2.75" font-size="8" text-anchor="middle" font-weight="bold">(Arbitrary Units)</text>
<text transform="translate(5.9,393) rotate(-90)" x="0" y="1.98" font-size="5.75" text-anchor="middle" font-weight="bold">mRNA copies/10<tspan font-size="3.6" dy="-1.6">6</tspan><tspan dy="1.6"> 18 s</tspan></text>
<text transform="translate(4.8,482.7) rotate(-90)" x="0" y="1.98" font-size="5.75" text-anchor="middle" font-weight="bold">mRNA copies/10<tspan font-size="3.6" dy="-1.6">6</tspan><tspan dy="1.6"> 18 s</tspan></text>
<text transform="translate(4.6,574.5) rotate(-90)" x="0" y="1.98" font-size="5.75" text-anchor="middle" font-weight="bold">mRNA copies/10<tspan font-size="3.6" dy="-1.6">6</tspan><tspan dy="1.6"> 18 s</tspan></text>
</svg>
</body></html>
